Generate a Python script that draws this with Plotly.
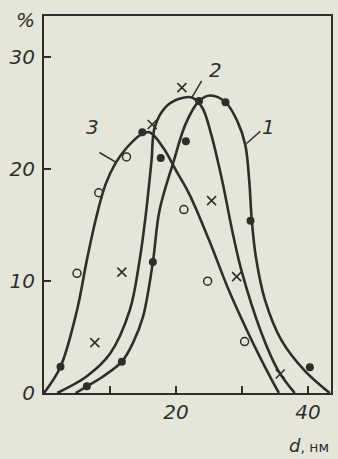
import plotly.graph_objects as go

# curves (d in nm, share in %)
curve1_x = [4.8, 6.5, 9.0, 11.8, 13.5, 15.0, 16.5, 17.5, 19.7, 21.5, 23.5, 25.2, 27.5, 29.3, 30.5, 31.1, 31.5, 32.1, 33.5, 36.0, 39.5, 43.3]
curve1_y = [0.0, 0.6, 1.5, 2.8, 4.5, 6.8, 11.7, 16.3, 20.8, 24.1, 26.1, 26.6, 26.0, 24.3, 22.2, 19.0, 15.4, 12.2, 8.3, 4.7, 2.0, 0.0]

curve2_x = [2.0, 6.5, 10.0, 13.0, 14.5, 15.5, 16.3, 16.8, 18.5, 20.5, 22.5, 24.0, 25.3, 27.0, 28.5, 29.9, 33.0, 35.5, 38.0]
curve2_y = [0.0, 1.5, 3.5, 7.4, 11.9, 16.3, 20.8, 23.8, 25.6, 26.3, 26.4, 25.5, 23.2, 19.0, 14.6, 11.0, 5.3, 2.0, 0.0]

curve3_x = [0.0, 2.5, 5.0, 6.5, 7.8, 9.3, 10.8, 12.5, 14.7, 16.0, 18.1, 20.0, 22.0, 25.0, 28.0, 31.0, 34.0, 35.6]
curve3_y = [0.0, 2.35, 7.4, 11.9, 15.4, 18.6, 20.5, 21.9, 23.1, 23.3, 21.9, 19.9, 17.8, 13.7, 9.2, 5.3, 1.75, 0.0]

# measured points
dots_x = [2.5, 6.5, 11.8, 16.5, 14.9, 17.7, 21.5, 23.5, 27.5, 31.3, 40.3]
dots_y = [2.35, 0.6, 2.8, 11.7, 23.3, 21.0, 22.5, 26.1, 26.0, 15.4, 2.3]

cross_x = [7.7, 11.8, 16.4, 20.9, 25.4, 29.2, 35.8]
cross_y = [4.5, 10.8, 24.0, 27.3, 17.2, 10.4, 1.7]

rings_x = [5.0, 8.3, 12.5, 21.2, 24.8, 30.4]
rings_y = [10.7, 17.9, 21.1, 16.4, 10.0, 4.6]

x_ticks = [10, 20, 30, 40]
x_labels = ["", "20", "", "40"]
y_ticks = [0, 10, 20, 30]
y_labels = ["0", "10", "20", "30"]

ink = "#2b302b"
paper = "#e6e5da"

fig = go.Figure()
for cx, cy in [(curve1_x, curve1_y), (curve2_x, curve2_y), (curve3_x, curve3_y)]:
    fig.add_trace(go.Scatter(x=cx, y=cy, mode="lines",
                             line=dict(color=ink, width=2.6, shape="spline", smoothing=1.0),
                             hoverinfo="skip", showlegend=False))

fig.add_trace(go.Scatter(x=dots_x, y=dots_y, mode="markers",
                         marker=dict(symbol="circle", size=8, color=ink), showlegend=False))
fig.add_trace(go.Scatter(x=cross_x, y=cross_y, mode="markers",
                         marker=dict(symbol="x-thin", size=9, line=dict(color=ink, width=1.6)),
                         showlegend=False))
fig.add_trace(go.Scatter(x=rings_x, y=rings_y, mode="markers",
                         marker=dict(symbol="circle-open", size=8, color=ink, line=dict(width=1.5)),
                         showlegend=False))

# curve labels with leader lines
for txt, lx, ly, x0, y0, x1, y1 in [("1", 34.0, 23.8, 30.7, 22.3, 32.8, 23.4),
                                      ("2", 26.0, 28.9, 22.4, 26.4, 23.9, 27.9),
                                      ("3", 7.4, 23.8, 8.4, 21.5, 11.0, 20.6)]:
    fig.add_annotation(x=lx, y=ly, text=txt, showarrow=False,
                       font=dict(family="DejaVu Sans", size=20, color=ink, style="italic"))
    fig.add_shape(type="line", x0=x0, y0=y0, x1=x1, y1=y1, line=dict(color=ink, width=1.5))

fig.add_annotation(xref="paper", yref="paper", x=-0.066, y=0.99, text="%", showarrow=False,
                   xanchor="center", yanchor="middle",
                   font=dict(family="DejaVu Sans", size=20, color=ink, style="italic"))
fig.add_annotation(xref="paper", yref="paper", x=1.0, y=-0.138,
                   text="<i><span style='font-size:18px'>d</span></i>, нм", showarrow=False,
                   xanchor="right", yanchor="middle",
                   font=dict(family="DejaVu Sans", size=14, color=ink))

axis_common = dict(showgrid=False, zeroline=False, showline=True, linecolor=ink, linewidth=2,
                   mirror=True, ticks="inside", tickcolor=ink, tickwidth=1.5, ticklen=7,
                   tickfont=dict(family="DejaVu Sans", size=20, color=ink, style="italic"))

fig.update_xaxes(range=[0, 43.5], tickvals=x_ticks, ticktext=x_labels, **axis_common)
fig.update_yaxes(range=[0, 33.7], tickvals=y_ticks, ticktext=y_labels, ticklabelstandoff=3, **axis_common)

fig.update_layout(width=338, height=459, margin=dict(l=44, r=5, t=16, b=66),
                  plot_bgcolor=paper, paper_bgcolor=paper)

fig.write_html("out.html", config={"displayModeBar": False},
               post_script="document.body.style.margin='0';document.body.style.background='%s';" % paper)
